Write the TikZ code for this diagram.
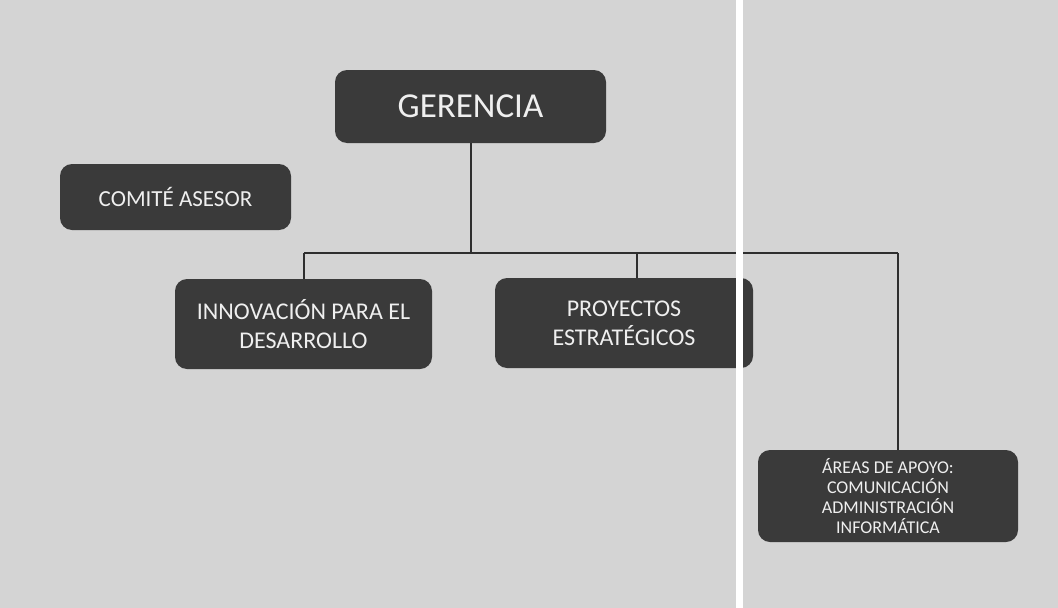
\documentclass[tikz,border=0pt]{standalone}
\usepackage{fontspec}
\setmainfont{Carlito}
\definecolor{bg}{HTML}{D4D4D4}
\definecolor{boxc}{HTML}{3A3A3A}
\definecolor{linec}{HTML}{2E2E2E}
\definecolor{txt}{HTML}{EFEFEF}
\tikzset{
  orgbox/.style={draw=none, fill=boxc, rounded corners=12pt, text=txt, align=center, inner sep=0pt},
  conn/.style={draw=linec, line width=1.4pt}
}
\begin{document}
\begin{tikzpicture}[x=1pt,y=-1pt]
\fill[bg] (0,0) rectangle (1058,608);
\useasboundingbox (0,0) rectangle (1058,608);

\node[orgbox, minimum width=271pt, minimum height=73pt, font=\fontsize{35}{40}\selectfont] (ger) at (470.5,106.5) {GERENCIA};
\node[orgbox, minimum width=231pt, minimum height=66pt, font=\fontsize{23}{27}\selectfont] (com) at (175.5,197) {COMITÉ ASESOR};
\node[orgbox, minimum width=257pt, minimum height=90pt, font=\fontsize{24}{29}\selectfont] (inn) at (303.5,324) {INNOVACIÓN PARA EL\\DESARROLLO};
\node[orgbox, minimum width=258pt, minimum height=90pt, font=\fontsize{24}{29}\selectfont] (pro) at (624,323) {PROYECTOS\\ESTRATÉGICOS};
\node[orgbox, minimum width=260pt, minimum height=92pt, font=\fontsize{18}{20}\selectfont] (are) at (888,496) {ÁREAS DE APOYO:\\COMUNICACIÓN\\ADMINISTRACIÓN\\INFORMÁTICA};

\coordinate (busL) at (304,253);
\coordinate (busM) at (637,253);
\coordinate (busR) at (898,253);
\coordinate (busG) at (471,253);

\draw[conn] (ger.south -| busG) -- (busG);
\draw[conn] (busL) -- (busR);
\draw[conn] (busL) -- (busL |- inn.north);
\draw[conn] (busM) -- (busM |- pro.north);
\draw[conn] (busR) -- (busR |- are.north);

% scan artifact: white vertical stripe
\fill[white] (736,0) rectangle (743,608);
\end{tikzpicture}
\end{document}
